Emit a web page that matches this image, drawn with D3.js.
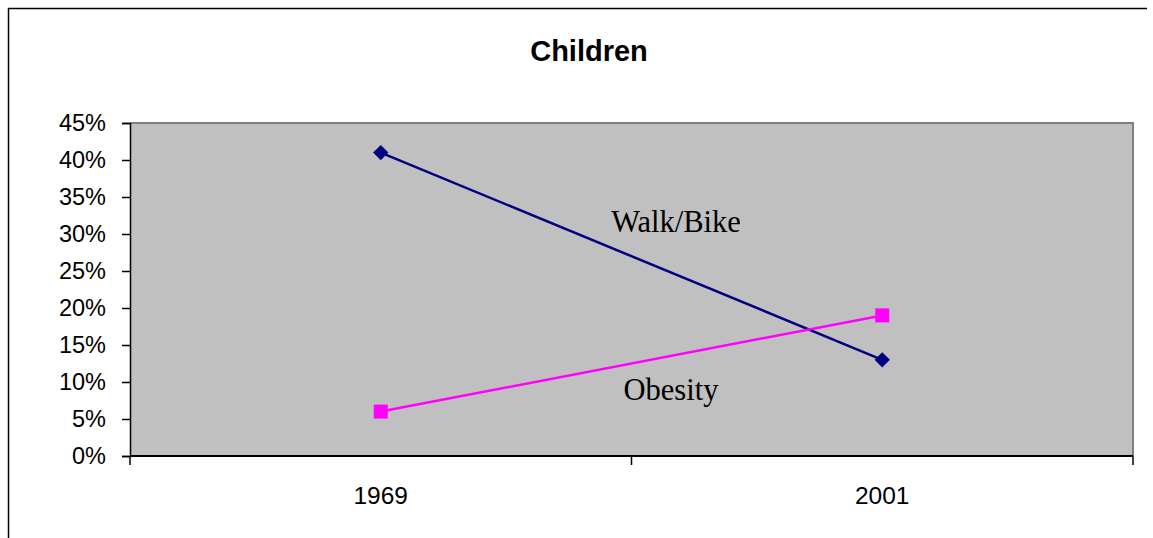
<!DOCTYPE html>
<html>
<head>
<meta charset="utf-8">
<script src="https://cdn.jsdelivr.net/npm/d3@7"></script>
<style>
	html, body {margin: 0; padding: 0; background: #fff;}
	svg {display: block;}
</style>
</head>
<body>
<div id="chart"></div>
<script>
	'use strict';

	var years = ['1969', '2001'];
	var walkBike = [0.41, 0.13];
	var obesity = [0.06, 0.19];
	var yTicks = [0, 0.05, 0.10, 0.15, 0.20, 0.25, 0.30, 0.35, 0.40, 0.45];
	var title = 'Children';
	var seriesNames = ['Walk/Bike', 'Obesity'];

	var W = 1153, H = 538;
	var plot = {left: 130, top: 123, right: 1133, bottom: 456};

	var svg = d3.select('#chart').append('svg')
		.attr('width', W).attr('height', H);

	// outer chart frame (only top + left visible in the original)
	svg.append('path')
		.attr('d', 'M8.5,' + H + 'V8.5H1147')
		.attr('fill', 'none').attr('stroke', '#000').attr('stroke-width', 1.5);

	svg.append('text')
		.attr('x', 589).attr('y', 61)
		.attr('text-anchor', 'middle')
		.style('font-family', 'Arial, "Liberation Sans", sans-serif')
		.style('font-weight', 'bold')
		.style('font-size', '29px')
		.text(title);

	var x = d3.scaleBand().domain(years).range([plot.left, plot.right]);
	var y = d3.scaleLinear().domain([0, 0.45]).range([plot.bottom, plot.top]);

	// plot area
	svg.append('rect')
		.attr('x', plot.left).attr('y', plot.top)
		.attr('width', plot.right - plot.left).attr('height', plot.bottom - plot.top)
		.attr('fill', '#c0c0c0');
	svg.append('path')
		.attr('d', 'M' + plot.left + ',' + plot.top + 'H' + plot.right + 'V' + plot.bottom)
		.attr('fill', 'none').attr('stroke', '#808080').attr('stroke-width', 2);

	// y axis
	var yAxis = svg.append('g')
		.attr('transform', 'translate(' + plot.left + ',0)')
		.call(d3.axisLeft(y).tickValues(yTicks).tickSize(8).tickPadding(16)
			.tickFormat(d3.format('.0%')));
	yAxis.select('.domain').attr('stroke', '#000').attr('stroke-width', 1.5);
	yAxis.selectAll('.tick line').attr('stroke', '#000').attr('stroke-width', 1.5);
	yAxis.selectAll('.tick text')
		.attr('fill', '#000')
		.style('font-family', 'Arial, "Liberation Sans", sans-serif')
		.style('font-size', '23.5px');

	// x axis: ticks sit between categories
	var xAxis = svg.append('g')
		.attr('transform', 'translate(0,' + plot.bottom + ')');
	xAxis.append('line')
		.attr('x1', plot.left).attr('x2', plot.right)
		.attr('stroke', '#000').attr('stroke-width', 2);
	var edges = [plot.left].concat(years.map(function(d) {return x(d) + x.bandwidth();}));
	xAxis.selectAll('line.tick').data(edges).enter().append('line')
		.attr('class', 'tick')
		.attr('x1', function(d) {return d;}).attr('x2', function(d) {return d;})
		.attr('y1', 0).attr('y2', 9)
		.attr('stroke', '#000').attr('stroke-width', 1.5);
	xAxis.selectAll('text').data(years).enter().append('text')
		.attr('x', function(d) {return x(d) + x.bandwidth() / 2;})
		.attr('y', 48)
		.attr('text-anchor', 'middle')
		.style('font-family', 'Arial, "Liberation Sans", sans-serif')
		.style('font-size', '24.5px')
		.text(function(d) {return d;});

	var line = d3.line()
		.x(function(d, i) {return x(years[i]) + x.bandwidth() / 2;})
		.y(function(d) {return y(d);});

	// Walk/Bike
	svg.append('path').datum(walkBike)
		.attr('d', line)
		.attr('fill', 'none').attr('stroke', '#000080').attr('stroke-width', 2.5);
	svg.selectAll('.wb').data(walkBike).enter().append('path')
		.attr('class', 'wb')
		.attr('transform', function(d, i) {
			return 'translate(' + (x(years[i]) + x.bandwidth() / 2) + ',' + y(d) + ')';})
		.attr('d', d3.symbol().type(d3.symbolDiamond2).size(150))
		.attr('fill', '#000080');

	// Obesity
	svg.append('path').datum(obesity)
		.attr('d', line)
		.attr('fill', 'none').attr('stroke', '#ff00ff').attr('stroke-width', 2.5);
	svg.selectAll('.ob').data(obesity).enter().append('rect')
		.attr('class', 'ob')
		.attr('x', function(d, i) {return x(years[i]) + x.bandwidth() / 2 - 7;})
		.attr('y', function(d) {return y(d) - 7;})
		.attr('width', 14).attr('height', 14)
		.attr('fill', '#ff00ff');

	// series labels
	var labelPos = [[676, 232], [671, 400]];
	svg.selectAll('.series-label').data(seriesNames).enter().append('text')
		.attr('class', 'series-label')
		.attr('x', function(d, i) {return labelPos[i][0];})
		.attr('y', function(d, i) {return labelPos[i][1];})
		.attr('text-anchor', 'middle')
		.style('font-family', '"Liberation Serif", "DejaVu Serif", serif')
		.style('font-size', '30.5px')
		.text(function(d) {return d;});
</script>
</body>
</html>
